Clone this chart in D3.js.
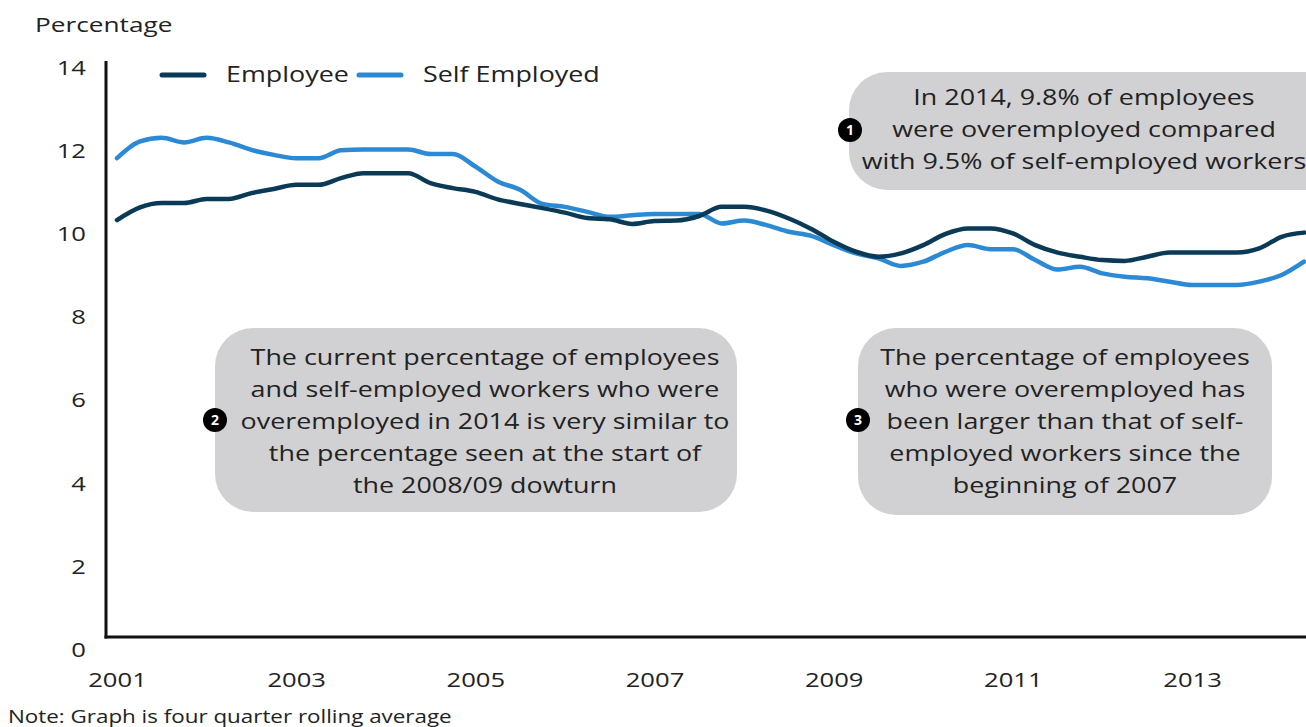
<!DOCTYPE html>
<html>
<head>
<meta charset="utf-8">
<script src="https://cdn.jsdelivr.net/npm/d3@7"></script>
<style>
  html, body { margin: 0; padding: 0; background: #ffffff; }
  svg { display: block; font-family: "Open Sans", "Noto Sans", sans-serif; }
</style>
</head>
<body>
<svg id="chart" width="1306" height="727"></svg>
<script>
// Quarterly categories, 2001 Q1 to 2014 Q2
const quarters = [];
for (let yr = 2001; yr <= 2014; yr++) {
  for (let q = 1; q <= 4; q++) {
    if (yr === 2014 && q > 2) break;
    quarters.push(yr + " Q" + q);
  }
}

// Four quarter rolling average, % of workers who are overemployed
const employee = [
  10.34, 10.64, 10.75, 10.75, 10.85, 10.85, 10.99, 11.09, 11.19, 11.19,
  11.35, 11.47, 11.47, 11.47, 11.23, 11.11, 11.02, 10.84, 10.73, 10.63,
  10.52, 10.39, 10.36, 10.25, 10.32, 10.33, 10.44, 10.66, 10.66, 10.57,
  10.38, 10.13, 9.82, 9.58, 9.46, 9.54, 9.74, 10.01, 10.14, 10.14,
  10.02, 9.74, 9.56, 9.46, 9.38, 9.36, 9.46, 9.56, 9.56, 9.56,
  9.56, 9.66, 9.94, 10.04
];
const selfEmployed = [
  11.83, 12.23, 12.32, 12.21, 12.32, 12.21, 12.03, 11.91, 11.83, 11.83,
  12.02, 12.04, 12.04, 12.04, 11.93, 11.93, 11.63, 11.27, 11.07, 10.73,
  10.66, 10.54, 10.42, 10.46, 10.49, 10.49, 10.49, 10.26, 10.33, 10.22,
  10.06, 9.96, 9.74, 9.54, 9.42, 9.24, 9.34, 9.58, 9.74, 9.64,
  9.64, 9.38, 9.15, 9.22, 9.06, 8.98, 8.94, 8.86, 8.78, 8.78,
  8.78, 8.86, 9.02, 9.34
];

const yTicks = [0, 2, 4, 6, 8, 10, 12, 14];
const xTickLabels = ["2001", "2003", "2005", "2007", "2009", "2011", "2013"];

const seriesNames = ["Employee", "Self Employed"];
const seriesColors = ["#0b3a57", "#2b8ad3"];

const notes = [
  { num: "1", lines: ["In 2014, 9.8% of employees", "were overemployed compared", "with 9.5% of self-employed workers"] },
  { num: "2", lines: ["The current percentage of employees", "and self-employed workers who were", "overemployed in 2014 is very similar to", "the percentage seen at the start of", "the 2008/09 dowturn"] },
  { num: "3", lines: ["The percentage of employees", "who were overemployed has", "been larger than that of self-", "employed workers since the", "beginning of 2007"] }
];

const svg = d3.select("#chart");
const textColor = "#222222";
// horizontal stretch applied to all lettering
const SX = 1.28;

function addText(parent, x, y, str, size, anchor) {
  return parent.append("text")
    .attr("transform", `translate(${x},${y}) scale(${SX},1)`)
    .attr("font-size", size)
    .attr("text-anchor", anchor || "start")
    .attr("fill", textColor)
    .text(str);
}

const x = d3.scalePoint().domain(quarters).range([117, 1304]);
const y = d3.scaleLinear().domain([0, 14]).range([650, 68]);

const axisX = 106, baseY = 637;

// Axis title
addText(svg, 35, 32, "Percentage", 20.5);

// Y axis labels
const yPad = 20;
const yAxis = svg.append("g")
  .attr("transform", `translate(${axisX},0)`)
  .call(d3.axisLeft(y).tickValues(yTicks).tickSize(0).tickPadding(yPad).tickFormat(d3.format("d")));
yAxis.select(".domain").remove();
yAxis.selectAll("text")
  .attr("x", -yPad / SX)
  .attr("transform", `scale(${SX},1)`)
  .attr("font-size", 20).attr("fill", textColor).attr("font-family", "Open Sans");

// X axis labels
const xAxis = svg.append("g")
  .attr("transform", `translate(0,${baseY})`)
  .call(d3.axisBottom(x)
    .tickValues(xTickLabels.map(t => t + " Q1"))
    .tickFormat(d => d.slice(0, 4))
    .tickSize(0).tickPadding(36));
xAxis.select(".domain").remove();
xAxis.selectAll("text")
  .attr("transform", `scale(${SX},1)`)
  .attr("font-size", 20).attr("fill", textColor).attr("font-family", "Open Sans");

// Axis lines
svg.append("line")
  .attr("x1", axisX).attr("x2", axisX).attr("y1", 61).attr("y2", baseY + 1.5)
  .attr("stroke", "#111").attr("stroke-width", 3);
svg.append("line")
  .attr("x1", axisX - 1.5).attr("x2", 1306).attr("y1", baseY).attr("y2", baseY)
  .attr("stroke", "#111").attr("stroke-width", 3);

// Series lines
const line = d3.line()
  .x((d, i) => x(quarters[i]))
  .y(d => y(d))
  .curve(d3.curveMonotoneX);

[selfEmployed, employee].forEach((vals, k) => {
  svg.append("path")
    .datum(vals)
    .attr("d", line)
    .attr("fill", "none")
    .attr("stroke", k === 0 ? seriesColors[1] : seriesColors[0])
    .attr("stroke-width", 4.5)
    .attr("stroke-linejoin", "round")
    .attr("stroke-linecap", "round");
});

// Legend
const legendPos = [{ sx: 162, tx: 226 }, { sx: 359, tx: 423 }];
seriesNames.forEach((name, i) => {
  svg.append("line")
    .attr("x1", legendPos[i].sx).attr("x2", legendPos[i].sx + 42)
    .attr("y1", 75).attr("y2", 75)
    .attr("stroke", seriesColors[i]).attr("stroke-width", 5)
    .attr("stroke-linecap", "round");
  addText(svg, legendPos[i].tx, 82, name, 21);
});

// Annotation callouts
const boxes = [
  { x: 849, y: 72, w: 500, h: 118, cx: 1084, ty: 105, bx: 850, by: 130 },
  { x: 215, y: 328, w: 522, h: 184, cx: 485, ty: 365, bx: 215, by: 420 },
  { x: 858, y: 328, w: 414, h: 187, cx: 1065, ty: 365, bx: 858, by: 420 }
];
notes.forEach((n, i) => {
  const b = boxes[i];
  const g = svg.append("g");
  g.append("rect")
    .attr("x", b.x).attr("y", b.y).attr("width", b.w).attr("height", b.h)
    .attr("rx", 38).attr("ry", 38)
    .attr("fill", "#d1d1d3");
  n.lines.forEach((str, j) => addText(g, b.cx, b.ty + j * 32, str, 21, "middle"));
  g.append("circle")
    .attr("cx", b.bx).attr("cy", b.by).attr("r", 12)
    .attr("fill", "#000");
  g.append("text")
    .attr("x", b.bx).attr("y", b.by + 5)
    .attr("text-anchor", "middle")
    .attr("font-size", 14).attr("font-weight", "bold")
    .attr("fill", "#fff")
    .text(n.num);
});

// Footnote
addText(svg, 8, 723, "Note: Graph is four quarter rolling average", 17.5);
</script>
</body>
</html>
